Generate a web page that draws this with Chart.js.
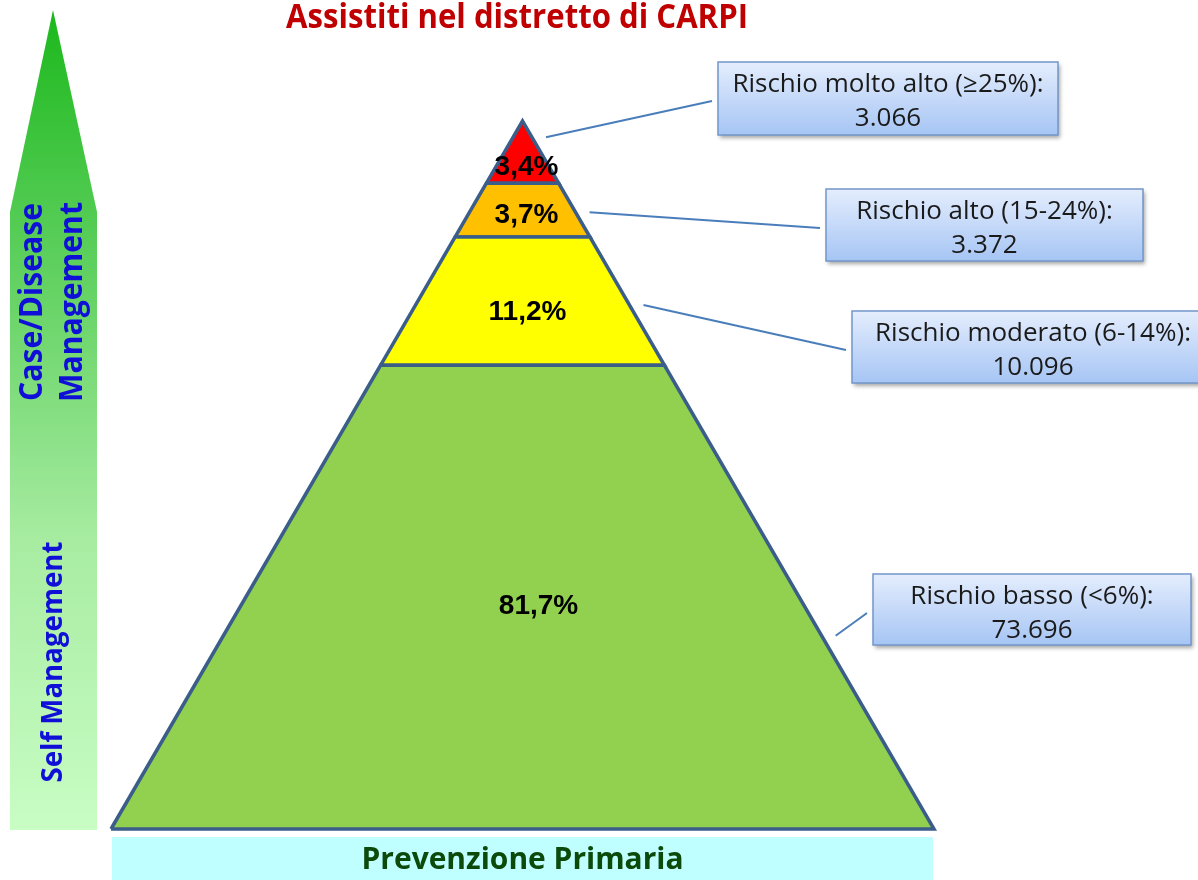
<!DOCTYPE html>
<html>
<head>
<meta charset="utf-8">
<script src="https://cdn.jsdelivr.net/npm/chart.js@4.4.0/dist/chart.umd.min.js"></script>
<style>
  html, body { margin: 0; padding: 0; background: #fff; }
  canvas { display: block; }
</style>
</head>
<body>
<canvas id="pyramidChart" width="1198" height="880"></canvas>
<script>
// risk bands, from the base of the pyramid up to the apex
const riskLabels = ['Rischio basso (<6%):', 'Rischio moderato (6-14%):', 'Rischio alto (15-24%):', 'Rischio molto alto (\u226525%):'];
const riskCounts = [73696, 10096, 3372, 3066];
const riskPercents = [81.7, 11.2, 3.7, 3.4];
// top of each band on the pyramid axis (0 = base, 100 = apex)
const bandTops = [65.5, 83.6, 91.2, 100];

const chartTitle = 'Assistiti nel distretto di CARPI';
const arrowLabelsTop = ['Case/Disease', 'Management'];
const arrowLabelBottom = 'Self Management';
const baseLabel = 'Prevenzione Primaria';

// styling / layout
const bandColors = ['#92d050', '#ffff00', '#ffc000', '#ff0000'];
const outlineColor = '#3b5d8a';
const W = 1198, H = 880;
const frame = { centerX: 522.5, halfBase: 411.5, baseY: 829, apexY: 121 };
const labelNudge = [[16, 9], [5, 11], [4, 5], [4, 15]];
const anchorLevels = [27.3, 74, 87.1, 97.7];
const calloutBoxes = [
    { x: 873, y: 574, w: 318, h: 71 },
    { x: 852, y: 311, w: 362, h: 72 },
    { x: 826, y: 189, w: 317, h: 72 },
    { x: 718, y: 62, w: 340, h: 73 }
];

function halfWidth(level) {
    return 1 - level / 100;
}

function formatCount(n) {
    return String(n).replace(/\B(?=(\d{3})+(?!\d))/g, '.');
}

function formatPercent(p) {
    return p.toFixed(1).replace('.', ',') + '%';
}

const pxPerLevel = (frame.baseY - frame.apexY) / 100;
const yMin = -(H - frame.baseY) / pxPerLevel;
const yMax = yMin + H / pxPerLevel;
const xMin = -frame.centerX / frame.halfBase;
const xMax = (W - frame.centerX) / frame.halfBase;

const datasets = bandTops.map((top, i) => {
    const bottom = i === 0 ? 0 : bandTops[i - 1];
    const wb = halfWidth(bottom), wt = halfWidth(top);
    return {
        label: riskLabels[i],
        data: [
            { x: -wb, y: bottom }, { x: wb, y: bottom },
            { x: wt, y: top }, { x: -wt, y: top },
            { x: -wb, y: bottom }
        ],
        showLine: true,
        fill: 'shape',
        backgroundColor: bandColors[i],
        borderColor: outlineColor,
        borderWidth: 3.5,
        borderJoinStyle: 'miter',
        pointRadius: 0,
        tension: 0
    };
});

function rotatedText(ctx, text, x, y, font, maxW) {
    ctx.save();
    ctx.font = font;
    ctx.translate(x, y);
    ctx.rotate(-Math.PI / 2);
    ctx.fillText(text, 0, 0, maxW);
    ctx.restore();
}

const decorPlugin = {
    id: 'decor',
    beforeDatasetsDraw(chart) {
        const ctx = chart.ctx;
        const xs = chart.scales.x;
        ctx.save();
        ctx.textAlign = 'center';
        ctx.textBaseline = 'alphabetic';

        // title
        ctx.fillStyle = '#c00000';
        ctx.font = 'bold 34px "Open Sans"';
        ctx.fillText(chartTitle, 517, 28, 462);

        // gradient arrow on the left
        const grad = ctx.createLinearGradient(0, 10, 0, 830);
        grad.addColorStop(0, '#1cb81c');
        grad.addColorStop(0.3, '#5ccf5c');
        grad.addColorStop(0.65, '#a8eca2');
        grad.addColorStop(1, '#c8fdc4');
        ctx.fillStyle = grad;
        ctx.beginPath();
        ctx.moveTo(53, 10);
        ctx.lineTo(97, 212);
        ctx.lineTo(97, 830);
        ctx.lineTo(10, 830);
        ctx.lineTo(10, 212);
        ctx.closePath();
        ctx.fill();

        ctx.fillStyle = '#0f0fd8';
        rotatedText(ctx, arrowLabelsTop[0], 42, 302, 'bold 32px "Open Sans"', 198);
        rotatedText(ctx, arrowLabelsTop[1], 82, 302, 'bold 32px "Open Sans"', 200);
        rotatedText(ctx, arrowLabelBottom, 62, 662, 'bold 28px "Open Sans"', 241);

        // base bar
        const left = xs.getPixelForValue(-1), right = xs.getPixelForValue(1);
        ctx.fillStyle = '#c0ffff';
        ctx.fillRect(left + 1, 837, right - left - 2, H - 837);
        ctx.fillStyle = '#0b4a0b';
        ctx.font = 'bold 30px "Open Sans"';
        ctx.fillText(baseLabel, (left + right) / 2, 869, 322);

        ctx.restore();
    },
    afterDatasetsDraw(chart) {
        const ctx = chart.ctx;
        const xs = chart.scales.x, ys = chart.scales.y;
        ctx.save();
        ctx.textAlign = 'center';

        // percentages inside the bands
        ctx.textBaseline = 'middle';
        ctx.fillStyle = '#000';
        ctx.font = 'bold 28px "Liberation Sans"';
        riskPercents.forEach((p, i) => {
            const bottom = i === 0 ? 0 : bandTops[i - 1];
            const mid = (bottom + bandTops[i]) / 2;
            ctx.fillText(formatPercent(p), xs.getPixelForValue(0) + labelNudge[i][0], ys.getPixelForValue(mid) + labelNudge[i][1]);
        });

        // connectors and callout boxes
        ctx.textBaseline = 'alphabetic';
        calloutBoxes.forEach((b, i) => {
            const lvl = anchorLevels[i];
            const sx = xs.getPixelForValue(halfWidth(lvl)) + 14;
            const sy = ys.getPixelForValue(lvl);
            ctx.strokeStyle = '#4a7ebb';
            ctx.lineWidth = 2;
            ctx.beginPath();
            ctx.moveTo(sx, sy);
            ctx.lineTo(b.x - 6, b.y + 39);
            ctx.stroke();

            const g = ctx.createLinearGradient(0, b.y, 0, b.y + b.h);
            g.addColorStop(0, '#e4edfd');
            g.addColorStop(1, '#a6c5f4');
            ctx.save();
            ctx.shadowColor = 'rgba(0,0,0,0.35)';
            ctx.shadowBlur = 4;
            ctx.shadowOffsetX = 2;
            ctx.shadowOffsetY = 3;
            ctx.fillStyle = g;
            ctx.fillRect(b.x, b.y, b.w, b.h);
            ctx.restore();
            ctx.strokeStyle = '#7396ca';
            ctx.lineWidth = 1.5;
            ctx.strokeRect(b.x, b.y, b.w, b.h);

            ctx.fillStyle = '#1a1a1a';
            ctx.font = '26px "Open Sans"';
            const cx = b.x + b.w / 2;
            ctx.fillText(riskLabels[i], cx, b.y + 30, b.w - 20);
            ctx.fillText(formatCount(riskCounts[i]), cx, b.y + 64);
        });
        ctx.restore();
    }
};

new Chart(document.getElementById('pyramidChart'), {
    type: 'scatter',
    data: { datasets: datasets },
    options: {
        responsive: false,
        animation: false,
        devicePixelRatio: 1,
        layout: { padding: 0 },
        plugins: { legend: { display: false }, tooltip: { enabled: false } },
        scales: {
            x: { display: false, min: xMin, max: xMax },
            y: { display: false, min: yMin, max: yMax }
        }
    },
    plugins: [decorPlugin]
});
</script>
</body>
</html>
